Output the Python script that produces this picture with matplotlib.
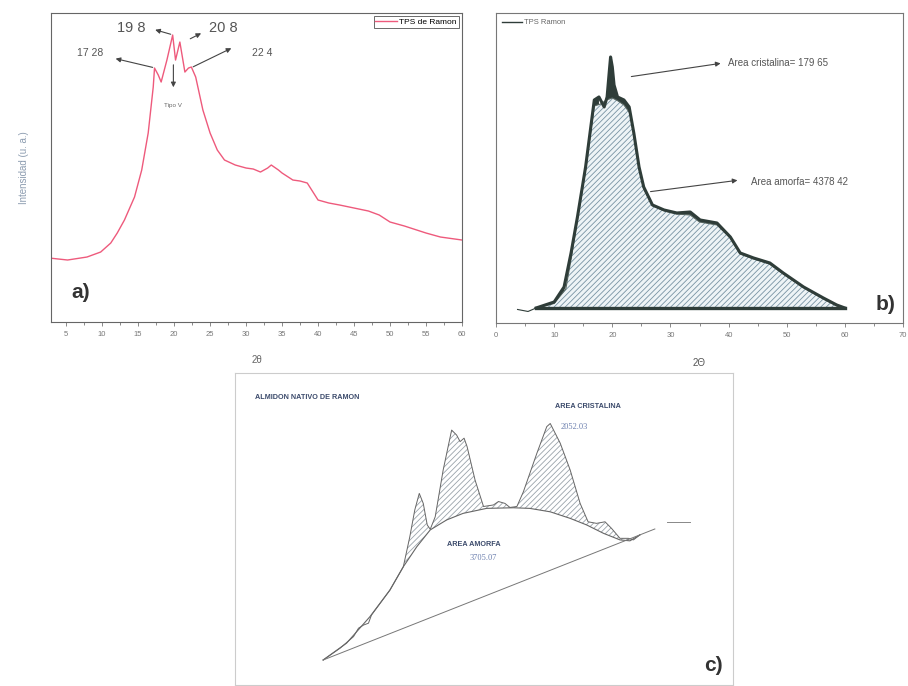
import matplotlib
matplotlib.use("Agg")
import matplotlib.pyplot as plt
import numpy as np

plt.rcParams["font.family"] = ["Liberation Sans", "DejaVu Sans"]
plt.rcParams["hatch.linewidth"] = 0.6

# ---- panel a: TPS de Ramon diffractogram (2theta, a.u.) ----
theta_a = [2.9, 5.2, 7.9, 9.8, 11.2, 12.1, 13.1, 14.5, 15.5, 16.4, 17.1, 17.28,
           17.8, 18.2, 19.0, 19.8, 20.2, 20.8, 21.5, 22.0, 22.4, 23.0, 24.0, 25.0,
           26.0, 27.0, 28.5, 30.0, 31.0, 32.0, 33.0, 33.5, 34.5, 35.0, 36.5, 37.5,
           38.5, 40.0, 41.5, 43.0, 45.0, 47.0, 48.5, 50.0, 52.0, 55.0, 57.0, 60.0]
int_a = [638, 620, 650, 700, 790, 890, 1020, 1250, 1520, 1890, 2350, 2540,
         2470, 2400, 2620, 2870, 2620, 2800, 2500, 2540, 2550, 2450, 2120, 1890,
         1720, 1620, 1570, 1540, 1530, 1500, 1540, 1570, 1520, 1490, 1420, 1410,
         1390, 1220, 1190, 1170, 1140, 1110, 1070, 1000, 960, 890, 850, 820]
peak_labels_a = ["17 28", "19 8", "20 8", "22 4"]

# ---- panel b: TPS Ramon with amorphous / crystalline areas ----
theta_b = [6.9, 10.0, 11.7, 12.9, 14.0, 15.4, 16.9, 17.7, 18.6, 19.1, 19.5, 19.7,
           20.0, 20.3, 20.9, 22.0, 22.9, 23.7, 24.6, 25.4, 26.9, 28.9, 31.1, 33.4,
           35.1, 38.0, 40.3, 42.0, 44.3, 47.1, 49.4, 52.9, 56.3, 58.6, 60.0]
int_b = [150, 210, 360, 700, 1060, 1560, 2230, 2260, 2160, 2260, 2530, 2660,
         2560, 2380, 2260, 2230, 2160, 1900, 1560, 1360, 1180, 1130, 1100, 1110,
         1030, 1000, 860, 700, 650, 600, 500, 360, 250, 180, 150]
theta_b_amorph = [6.9, 10.0, 12.0, 13.0, 14.0, 15.4, 16.9, 18.0, 19.0, 20.0, 21.0,
                  22.0, 23.0, 23.7, 24.6, 25.4, 27.0, 29.0, 31.0, 33.4, 35.0, 38.0,
                  40.3, 42.0, 44.3, 47.0, 49.4, 53.0, 56.3, 58.6, 60.0]
int_b_amorph = [150, 195, 340, 670, 1030, 1530, 2170, 2190, 2230, 2250, 2220,
                2180, 2100, 1880, 1540, 1340, 1170, 1120, 1090, 1080, 1010, 980,
                850, 690, 640, 590, 490, 350, 240, 170, 150]
theta_b_tail = [3.7, 5.5, 6.9]
int_b_tail = [135, 115, 150]
area_cristalina_b = "179 65"
area_amorfa_b = "4378 42"

# ---- panel c: native starch (no axis scale in the original) ----
x_c_total = [17.7, 21.1, 23.8, 24.8, 25.8, 26.8, 27.4, 31.1, 33.8, 35.1, 36.1, 37.0,
             37.8, 38.6, 39.2, 40.2, 41.8, 43.5, 44.5, 45.2, 46.0, 46.6, 48.2, 49.9,
             51.9, 52.9, 54.2, 55.2, 56.6, 57.9, 60.6, 62.6, 63.3, 65.3, 67.3, 69.3,
             70.9, 72.6, 74.3, 75.6, 77.3, 79.0, 80.0, 81.3]
y_c_total = [8.0, 11.8, 15.5, 18.2, 19.2, 19.8, 22.4, 30.4, 37.9, 47.5, 56.1, 61.4,
             58.2, 51.3, 49.9, 53.9, 68.9, 81.7, 80.1, 78.0, 79.1, 76.4, 65.7, 57.2,
             57.7, 58.8, 58.2, 56.9, 57.2, 61.9, 74.2, 82.8, 83.8, 77.5, 68.9, 58.2,
             52.3, 51.8, 52.3, 50.2, 47.0, 47.0, 46.5, 48.1]
x_c_amorph = [17.7, 22.4, 27.1, 31.1, 33.8, 36.5, 39.2, 42.5, 45.8, 50.5, 55.9,
              59.2, 63.3, 67.3, 70.6, 74.0, 77.3, 79.3, 81.3]
y_c_amorph = [8.0, 13.4, 21.9, 30.4, 37.9, 44.3, 49.7, 52.9, 55.0, 56.6, 56.8,
              56.6, 55.5, 53.4, 51.3, 48.6, 46.5, 46.2, 48.1]
x_c_base = [17.7, 84.3]
y_c_base = [8.0, 50.0]
x_c_flat = [86.7, 91.4]
y_c_flat = [52.3, 52.3]
area_cristalina_c = "2052.03"
area_amorfa_c = "3705.07"

fig = plt.figure(figsize=(9.08, 6.86), dpi=100)

# ================= a) =================
ax = fig.add_axes([0.0562, 0.5306, 0.4526, 0.4504])
red = "#ee5a7c"
ax.plot(theta_a, int_a, color=red, lw=1.0, label="TPS de Ramon")
ax.set_xlim(2.9, 60)
ax.set_ylim(0, 3090)
ax.set_xticks(np.arange(5, 61, 5))
ax.set_xticks(np.arange(7.5, 60, 5), minor=True)
ax.set_yticks([])
ax.tick_params(axis="x", labelsize=5.5, colors="#777777", length=3, width=0.6)
ax.tick_params(axis="x", which="minor", length=2, width=0.6, colors="#777777")
for s in ax.spines.values():
    s.set_color("#666666")
    s.set_linewidth(0.8)
ax.set_xlabel("2θ", fontsize=7, color="#666666", labelpad=12)
ax.set_ylabel("Intensidad (u. a.)", fontsize=7, color="#8c9cb0", labelpad=16)
leg = ax.legend(loc="upper right", fontsize=6, frameon=True, fancybox=False,
                edgecolor="#444444", borderpad=0.2, handlelength=2.6,
                handletextpad=0.3, borderaxespad=0.4)
leg.get_frame().set_linewidth(0.7)

arrow = dict(arrowstyle="-|>", color="#444444", lw=0.8, mutation_scale=7)
# arrows go from the peak to its label
ax.annotate("", xy=(11.5, 2640), xytext=(17.4, 2540), arrowprops=arrow)
ax.text(8.3, 2690, peak_labels_a[0], fontsize=7.5, color="#555555", ha="center", va="center")
ax.annotate("", xy=(17.0, 2930), xytext=(19.9, 2870), arrowprops=arrow)
ax.text(14.0, 2940, peak_labels_a[1], fontsize=10.5, color="#555555", ha="center", va="center")
ax.annotate("", xy=(24.1, 2900), xytext=(21.9, 2820), arrowprops=arrow)
ax.text(26.8, 2940, peak_labels_a[2], fontsize=10.5, color="#555555", ha="center", va="center")
ax.annotate("", xy=(28.3, 2750), xytext=(22.3, 2540), arrowprops=arrow)
ax.text(32.3, 2690, peak_labels_a[3], fontsize=7.5, color="#555555", ha="center", va="center")
ax.annotate("", xy=(19.9, 2320), xytext=(19.9, 2600), arrowprops=arrow)
ax.text(19.9, 2170, "Tipo V", fontsize=4.5, color="#666666", ha="center", va="center")
ax.text(7.0, 300, "a)", fontsize=15, fontweight="bold", color="#333333", ha="center", va="center")

# ================= b) =================
bx = fig.add_axes([0.5463, 0.5292, 0.4482, 0.4519])
dark = "#2f3d39"
bx.fill_between(theta_b_amorph, 150, int_b_amorph, facecolor="#eef4f6",
                edgecolor="#7893a3", hatch="//////", linewidth=0)
int_b_amorph_on_b = np.interp(theta_b, theta_b_amorph, int_b_amorph)
bx.fill_between(theta_b, int_b_amorph_on_b, int_b, where=np.array(int_b) > int_b_amorph_on_b,
                color=dark, linewidth=0)
bx.plot(theta_b_amorph, int_b_amorph, color="#55645f", lw=0.8)
bx.plot(theta_b, int_b, color=dark, lw=2.2, solid_joinstyle="round")
bx.plot([theta_b[0], theta_b[-1]], [150, 150], color=dark, lw=2.4)
bx.plot(theta_b_tail, int_b_tail, color=dark, lw=0.8)
bx.plot([], [], color=dark, lw=1.0, label="TPS Ramon")
bx.set_xlim(0, 70)
bx.set_ylim(0, 3100)
bx.set_xticks(np.arange(0, 71, 10))
bx.set_xticks(np.arange(5, 70, 10), minor=True)
bx.set_yticks([])
bx.tick_params(axis="x", labelsize=5.5, colors="#777777", length=3, width=0.6)
bx.tick_params(axis="x", which="minor", length=2, width=0.6, colors="#777777")
for s in bx.spines.values():
    s.set_color("#777777")
    s.set_linewidth(0.8)
bx.set_xlabel("2Θ", fontsize=7, color="#555555", labelpad=14)
bleg = bx.legend(loc="upper left", fontsize=5.5, frameon=False, handlelength=2.6,
                 handletextpad=0.3, borderaxespad=0.4)
for t in bleg.get_texts():
    t.set_color("#666666")

barrow = dict(arrowstyle="-|>", color="#444444", lw=0.8, mutation_scale=7)
bx.annotate("", xy=(39.1, 2600), xytext=(22.8, 2460), arrowprops=barrow)
bx.text(39.9, 2600, "Area cristalina= " + area_cristalina_b, fontsize=7,
        color="#555555", ha="left", va="center")
bx.annotate("", xy=(42.0, 1430), xytext=(26.1, 1310), arrowprops=barrow)
bx.text(43.8, 1410, "Area amorfa= " + area_amorfa_b, fontsize=7,
        color="#555555", ha="left", va="center")
bx.text(67.0, 180, "b)", fontsize=15, fontweight="bold", color="#333333",
        ha="center", va="center")

# ================= c) =================
cx = fig.add_axes([0.2588, 0.0015, 0.5485, 0.4548])
line_c = "#666666"
y_c_amorph_on_total = np.interp(x_c_total, x_c_amorph, y_c_amorph)
cx.fill_between(x_c_total, y_c_amorph_on_total, y_c_total,
                where=np.array(y_c_total) >= y_c_amorph_on_total - 0.01,
                facecolor="white", edgecolor="#9aa3aa", hatch="//////", linewidth=0)
cx.plot(x_c_total, y_c_total, color=line_c, lw=0.7)
cx.plot(x_c_amorph, y_c_amorph, color=line_c, lw=0.8)
cx.plot(x_c_base, y_c_base, color="#777777", lw=0.7)
cx.plot(x_c_flat, y_c_flat, color="#888888", lw=0.7)
cx.set_xlim(0, 100)
cx.set_ylim(0, 100)
cx.set_xticks([])
cx.set_yticks([])
for s in cx.spines.values():
    s.set_color("#cccccc")
    s.set_linewidth(0.8)
cx.text(4.0, 92.3, "ALMIDON NATIVO DE RAMON", fontsize=5.2, fontweight="bold",
        color="#3b4a6b", ha="left", va="center", fontstretch="condensed")
cx.text(64.3, 89.4, "AREA CRISTALINA", fontsize=5.2, fontweight="bold",
        color="#3b4a6b", ha="left", va="center")
cx.text(65.3, 82.7, area_cristalina_c, fontsize=6, color="#6b7fae",
        ha="left", va="center", family="Liberation Serif")
cx.text(42.6, 44.9, "AREA AMORFA", fontsize=5.2, fontweight="bold",
        color="#3b4a6b", ha="left", va="center")
cx.text(47.2, 40.7, area_amorfa_c, fontsize=6, color="#6b7fae",
        ha="left", va="center", family="Liberation Serif")
cx.text(96.0, 6.4, "c)", fontsize=15, fontweight="bold", color="#333333",
        ha="center", va="center")

fig.savefig("out.png", dpi=100, facecolor="white")
